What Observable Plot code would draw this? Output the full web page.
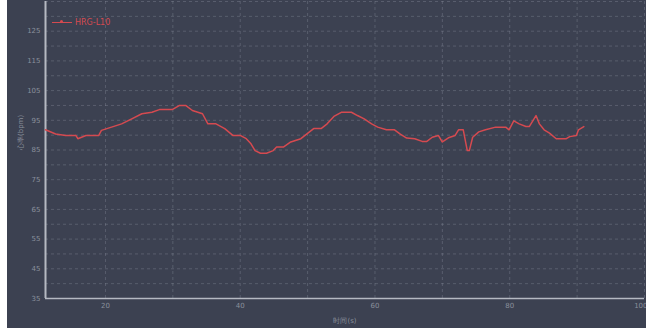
<!DOCTYPE html>
<html>
<head>
<meta charset="utf-8">
<script src="https://cdn.jsdelivr.net/npm/d3@7"></script>
<script src="https://cdn.jsdelivr.net/npm/@observablehq/plot@0.6"></script>
<style>
  html, body { margin: 0; padding: 0; background: #ffffff; }
  #wrap { position: relative; margin-left: 7px; width: 639px; height: 328px; background: #3c4151; overflow: hidden; }
  #legend { position: absolute; left: 45px; top: 18px; display: flex; align-items: center; font-family: "DejaVu Sans", sans-serif; font-size: 8px; color: #d54a50; }
  #legend .sw { position: relative; width: 20px; height: 0; border-top: 1.5px solid #d54a50; margin-right: 3px; }
  #legend .sw::after { content: ""; position: absolute; left: 8px; top: -3px; width: 3px; height: 3px; border-radius: 50%; background: #d54a50; }
</style>
</head>
<body>
<div id="wrap"><div id="legend"><span class="sw"></span><span id="legtext"></span></div></div>
<script>
const seriesName = "HRG-L10";
const xLabel = "时间(s)";
const yLabel = "心率(bpm)";
const time = [11.1, 12.6, 14.1, 15.6, 15.9, 17.1, 19.0, 19.4, 20.9, 22.4, 23.9, 25.4, 26.9, 28.0, 29.9, 31.0, 31.9, 32.9, 34.4, 35.2, 36.4, 37.7, 38.9, 40.0, 40.9, 41.6, 42.2, 43.0, 43.9, 44.9, 45.4, 46.4, 47.5, 49.0, 49.9, 50.9, 52.0, 52.9, 53.9, 55.0, 56.5, 57.4, 58.4, 59.5, 60.4, 61.7, 62.9, 63.7, 64.7, 65.9, 67.0, 67.7, 68.5, 69.4, 70.0, 70.9, 71.9, 72.4, 73.1, 73.7, 74.0, 74.5, 75.4, 76.4, 77.9, 79.4, 79.9, 80.6, 81.4, 82.4, 82.9, 83.9, 84.4, 85.1, 85.9, 86.9, 88.4, 88.9, 89.9, 90.2, 91.0];
const value = [91.8, 90.4, 89.9, 89.9, 88.8, 89.9, 89.9, 91.6, 92.7, 93.8, 95.5, 97.2, 97.7, 98.6, 98.6, 100.0, 100.0, 98.3, 97.2, 93.8, 93.8, 92.2, 89.9, 89.9, 88.8, 87.1, 84.8, 83.9, 83.9, 84.8, 86.0, 86.0, 87.7, 88.8, 90.4, 92.2, 92.2, 93.8, 96.3, 97.7, 97.7, 96.6, 95.5, 93.8, 92.7, 91.8, 91.8, 90.4, 89.0, 88.8, 87.9, 87.9, 89.3, 89.9, 87.7, 89.1, 89.9, 91.8, 91.8, 84.8, 84.8, 89.3, 91.1, 91.8, 92.7, 92.7, 91.8, 94.8, 93.8, 92.9, 92.9, 96.6, 93.8, 91.8, 90.7, 88.8, 88.8, 89.5, 89.9, 91.8, 92.9];
const xTicks = [20, 40, 60, 80];
const xTickLast = [100];
const yTicks = [35, 45, 55, 65, 75, 85, 95, 105, 115, 125];
const xGrid = [20, 30, 40, 50, 60, 70, 80, 90, 100];
const yGrid = d3.range(35, 136, 5);

const data = time.map((t, i) => ({t, v: value[i]}));
document.getElementById("legtext").textContent = seriesName;

const chart = Plot.plot({
  width: 639,
  height: 328,
  marginLeft: 38,
  marginRight: 2,
  marginTop: 1,
  marginBottom: 30,
  style: {background: "transparent", fontFamily: "'DejaVu Sans', sans-serif", fontSize: "7px", color: "#8a909c"},
  x: {domain: [11.1, 100], label: null},
  y: {domain: [35, 135], label: null},
  marks: [
    Plot.ruleX(xGrid, {stroke: "#8d93a0", strokeOpacity: 0.45, strokeDasharray: "3,3", strokeWidth: 0.8}),
    Plot.ruleY(yGrid, {stroke: "#8d93a0", strokeOpacity: 0.45, strokeDasharray: "3,3", strokeWidth: 0.8}),
    Plot.axisX(xTicks, {tickSize: 0, tickPadding: 5, fill: "#8a909c", label: xLabel, labelAnchor: "center", labelArrow: "none", labelOffset: 24}),
    Plot.axisX(xTickLast, {tickSize: 0, tickPadding: 5, fill: "#8a909c", label: null, textAnchor: "end", dx: 3}),
    Plot.axisY(yTicks, {tickSize: 0, tickPadding: 5, fill: "#8a909c", label: null}),
    Plot.text([yLabel], {frameAnchor: "left", dx: -25, rotate: -90, fill: "#8a909c", fontSize: 7}),
    Plot.ruleY([35], {stroke: "#b5b9c2", strokeWidth: 1.5}),
    Plot.ruleX([11.1], {stroke: "#b5b9c2", strokeWidth: 2}),
    Plot.line(data, {x: "t", y: "v", stroke: "#d54a50", strokeWidth: 1.5})
  ]
});
document.getElementById("wrap").prepend(chart);
</script>
</body>
</html>
